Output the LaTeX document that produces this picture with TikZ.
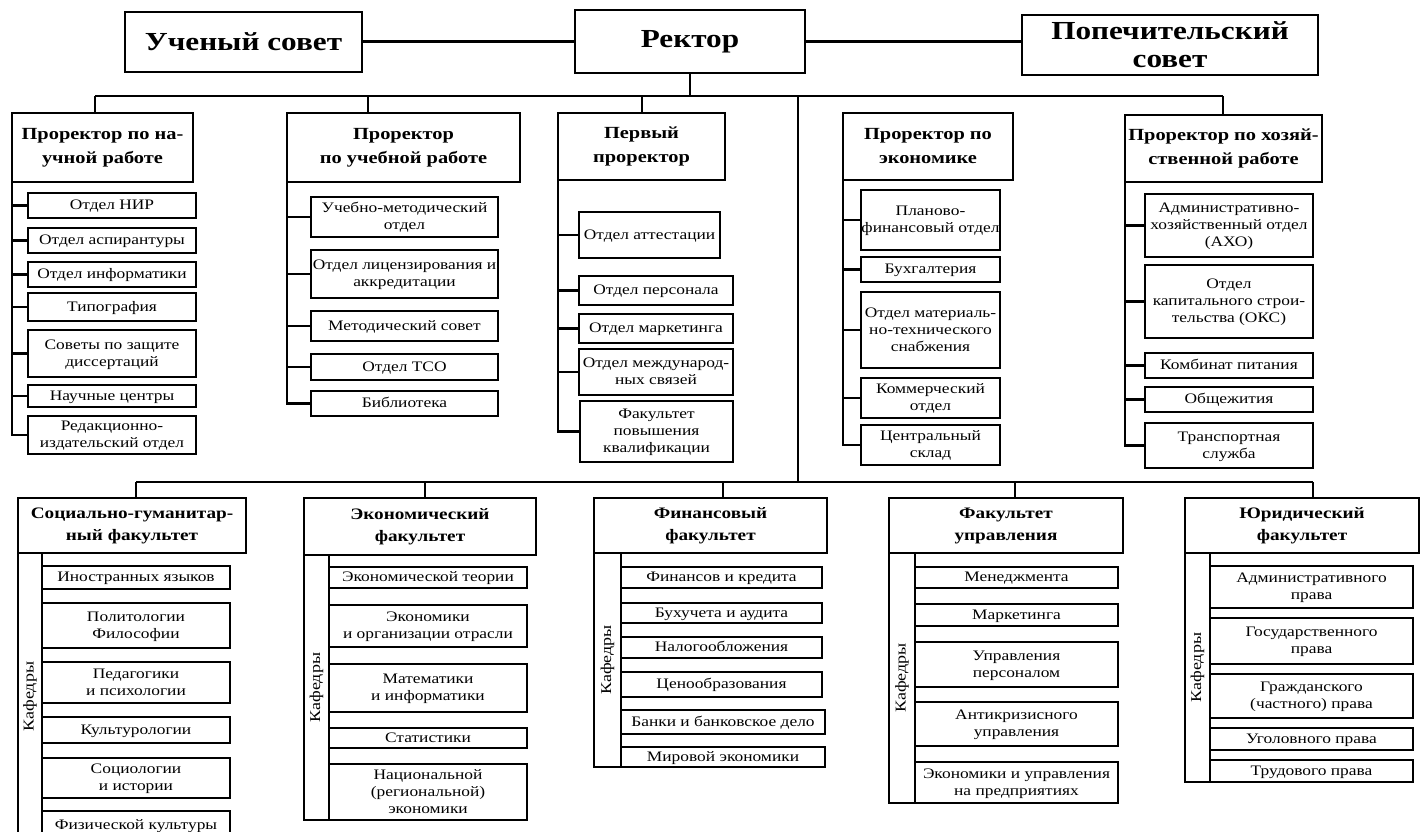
\documentclass[tikz,border=0pt]{standalone}
\usepackage{fontspec}
\setmainfont[FakeStretch=1.2]{Liberation Serif}
\usepackage{tikz}

\tikzset{
  topbox/.style={draw,line width=2.8pt,align=center,inner sep=1pt,font=\bfseries\fontsize{26}{28}\selectfont},
  head/.style={draw,line width=2.4pt,align=center,inner sep=1pt,font=\bfseries\fontsize{17}{24}\selectfont},
  faculty/.style={draw,line width=2.6pt,align=center,inner sep=1pt,font=\bfseries\fontsize{16}{22}\selectfont},
  dept/.style={draw,line width=2pt,align=center,inner sep=0.5pt,text depth=1.5pt,font=\fontsize{14.5}{17}\selectfont},
  strip/.style={draw,line width=2pt,rotate=90,inner sep=1pt,font=\fontsize{15}{17}\selectfont},
  link/.style={line width=2.2pt},
}

\begin{document}
\begin{tikzpicture}[x=1pt,y=-1pt]
\useasboundingbox (0,0) rectangle (1425,831);

\node[topbox,minimum width=237,minimum height=60] (us) at (243.5,42) {Ученый совет};
\node[topbox,minimum width=230,minimum height=63] (rek) at (690,41.5) {Ректор};
\node[topbox,minimum width=296,minimum height=60] (pop) at (1170,45) {Попечительский\\совет};
\draw[link] (rek.west) -- (rek.west -| us.east);
\draw[link] (rek.east) -- (rek.east -| pop.west);

\node[head,minimum width=181,minimum height=69] (vr1) at (102.5,147.5) {Проректор по на-\\учной работе};
\node[head,minimum width=233,minimum height=69] (vr2) at (403.5,147.5) {Проректор\\по учебной работе};
\node[head,minimum width=167,minimum height=67] (vr3) at (641.5,146.5) {Первый\\проректор};
\node[head,minimum width=170,minimum height=67] (vr4) at (928,146.5) {Проректор по\\экономике};
\node[head,minimum width=197,minimum height=67] (vr5) at (1223.5,148.5) {Проректор по хозяй-\\ственной работе};

\coordinate (b1) at (95,96);
\coordinate (b2) at (368,96);
\coordinate (b3) at (642,96);
\coordinate (bm) at (798,96);
\coordinate (b5) at (1223,96);
\draw[link] (b1) -- (b5);
\draw[link] (rek.south) -- (rek.south |- b1);
\draw[link] (b1) -- (b1 |- vr1.north);
\draw[link] (b2) -- (b2 |- vr2.north);
\draw[link] (b3) -- (b3 |- vr3.north);
\draw[link] (b5) -- (b5 |- vr5.north);

\foreach \nm/\xa/\xb/\ya/\yb/\txt in {nir/28/196/193/218/{Отдел НИР},asp/28/196/228/253/{Отдел аспирантуры},
  inf/28/196/262/287/{Отдел информатики},typ/28/196/293/321/{Типография},
  dis/28/196/330/377/{Советы по защите\\диссертаций},nc/28/196/385/407/{Научные центры},
  red/28/196/416/454/{Редакционно-\\издательский отдел}}{
  \node[dept,minimum width={\xb-\xa},minimum height={\yb-\ya}] (\nm) at ({(\xa+\xb)/2},{(\ya+\yb)/2}) {\txt};
  \draw[link] ([xshift=1]vr1.south west) |- (\nm.west);
}

\foreach \nm/\xa/\xb/\ya/\yb/\txt in {umo/311/498/197/237/{Учебно-методический\\отдел},
  lic/311/498/250/298/{Отдел лицензирования и\\аккредитации},mso/311/498/311/341/{Методический совет},
  tso/311/498/354/380/{Отдел ТСО},lib/311/498/391/416/{Библиотека}}{
  \node[dept,minimum width={\xb-\xa},minimum height={\yb-\ya}] (\nm) at ({(\xa+\xb)/2},{(\ya+\yb)/2}) {\txt};
  \draw[link] ([xshift=1]vr2.south west) |- (\nm.west);
}

\foreach \nm/\xa/\xb/\ya/\yb/\txt in {att/579/720/212/258/{Отдел аттестации},per/579/733/276/305/{Отдел персонала},
  mar/579/733/314/343/{Отдел маркетинга},mez/579/733/349/395/{Отдел международ-\\ных связей},
  fpk/580/733/401/462/{Факультет\\повышения\\квалификации}}{
  \node[dept,minimum width={\xb-\xa},minimum height={\yb-\ya}] (\nm) at ({(\xa+\xb)/2},{(\ya+\yb)/2}) {\txt};
  \draw[link] ([xshift=1]vr3.south west) |- (\nm.west);
}

\foreach \nm/\xa/\xb/\ya/\yb/\txt in {pfo/861/1000/190/250/{Планово-\\финансовый отдел},buh/861/1000/257/282/{Бухгалтерия},
  mto/861/1000/292/368/{Отдел материаль-\\но-технического\\снабжения},kom/861/1000/378/418/{Коммерческий\\отдел},
  skl/861/1000/425/465/{Центральный\\склад}}{
  \node[dept,minimum width={\xb-\xa},minimum height={\yb-\ya}] (\nm) at ({(\xa+\xb)/2},{(\ya+\yb)/2}) {\txt};
  \draw[link] ([xshift=1]vr4.south west) |- (\nm.west);
}

\foreach \nm/\xa/\xb/\ya/\yb/\txt in {aho/1145/1313/194/257/{Административно-\\хозяйственный отдел\\(АХО)},
  oks/1145/1313/265/338/{Отдел\\капитального строи-\\тельства (ОКС)},kpi/1145/1313/353/378/{Комбинат питания},
  obs/1145/1313/387/412/{Общежития},trs/1145/1313/423/468/{Транспортная\\служба}}{
  \node[dept,minimum width={\xb-\xa},minimum height={\yb-\ya}] (\nm) at ({(\xa+\xb)/2},{(\ya+\yb)/2}) {\txt};
  \draw[link] ([xshift=1]vr5.south west) |- (\nm.west);
}

\node[faculty,minimum width=228,minimum height=55] (fac1) at (132,525.5) {Социально-гуманитар-\\ный факультет};
\node[faculty,minimum width=232,minimum height=57] (fac2) at (420,526.5) {Экономический\\факультет};
\node[faculty,minimum width=233,minimum height=55] (fac3) at (710.5,525.5) {Финансовый\\факультет};
\node[faculty,minimum width=234,minimum height=55] (fac4) at (1006,525.5) {Факультет\\управления};
\node[faculty,minimum width=234,minimum height=55] (fac5) at (1302,525.5) {Юридический\\факультет};

\coordinate (fm) at (798,482);
\coordinate (f1) at (136,482);
\coordinate (f2) at (425,482);
\coordinate (f3) at (723,482);
\coordinate (f4) at (1015,482);
\coordinate (f5) at (1313,482);
\draw[link] (bm) -- (fm);
\draw[link] (f1) -- (f5);
\foreach \ff in {1,...,5}{
  \draw[link] (f\ff) -- (f\ff |- fac\ff.north);
}

\node[strip,minimum width=287,minimum height=24] (k1) at (30,696.5) {Кафедры};
\node[strip,minimum width=265,minimum height=25] (k2) at (316.5,687.5) {Кафедры};
\node[strip,minimum width=214,minimum height=27] (k3) at (607.5,660) {Кафедры};
\node[strip,minimum width=250,minimum height=26] (k4) at (902,678) {Кафедры};
\node[strip,minimum width=229,minimum height=25] (k5) at (1197.5,667.5) {Кафедры};

\foreach \nm/\xa/\xb/\ya/\yb/\txt in {ino/42/230/566/589/{Иностранных языков},pol/42/230/603/648/{Политологии\\Философии},
  ped/42/230/662/703/{Педагогики\\и психологии},kul/42/230/717/743/{Культурологии},
  soc/42/230/758/798/{Социологии\\и истории},fiz/42/230/811/840/{Физической культуры},
  ekt/329/527/567/588/{Экономической теории},eko/329/527/605/647/{Экономики\\и организации отрасли},
  mat/329/527/664/712/{Математики\\и информатики},sta/329/527/728/748/{Статистики},
  nre/329/527/764/820/{Национальной\\(региональной)\\экономики},
  fik/621/822/567/588/{Финансов и кредита},bua/621/822/603/623/{Бухучета и аудита},
  nal/621/822/637/658/{Налогообложения},cen/621/822/672/697/{Ценообразования},
  bnk/621/825/710/734/{Банки и банковское дело},mir/621/825/747/767/{Мировой экономики},
  men/915/1118/567/588/{Менеджмента},mkt/915/1118/604/626/{Маркетинга},
  upr/915/1118/642/687/{Управления\\персоналом},ant/915/1118/702/746/{Антикризисного\\управления},
  eup/915/1118/762/803/{Экономики и управления\\на предприятиях},
  adm/1210/1413/566/608/{Административного\\права},gos/1210/1413/618/664/{Государственного\\права},
  gra/1210/1413/674/718/{Гражданского\\(частного) права},ugo/1210/1413/728/750/{Уголовного права},
  tru/1210/1413/760/782/{Трудового права}}{
  \node[dept,minimum width={\xb-\xa},minimum height={\yb-\ya}] (\nm) at ({(\xa+\xb)/2},{(\ya+\yb)/2}) {\txt};
}
\end{tikzpicture}
\end{document}
